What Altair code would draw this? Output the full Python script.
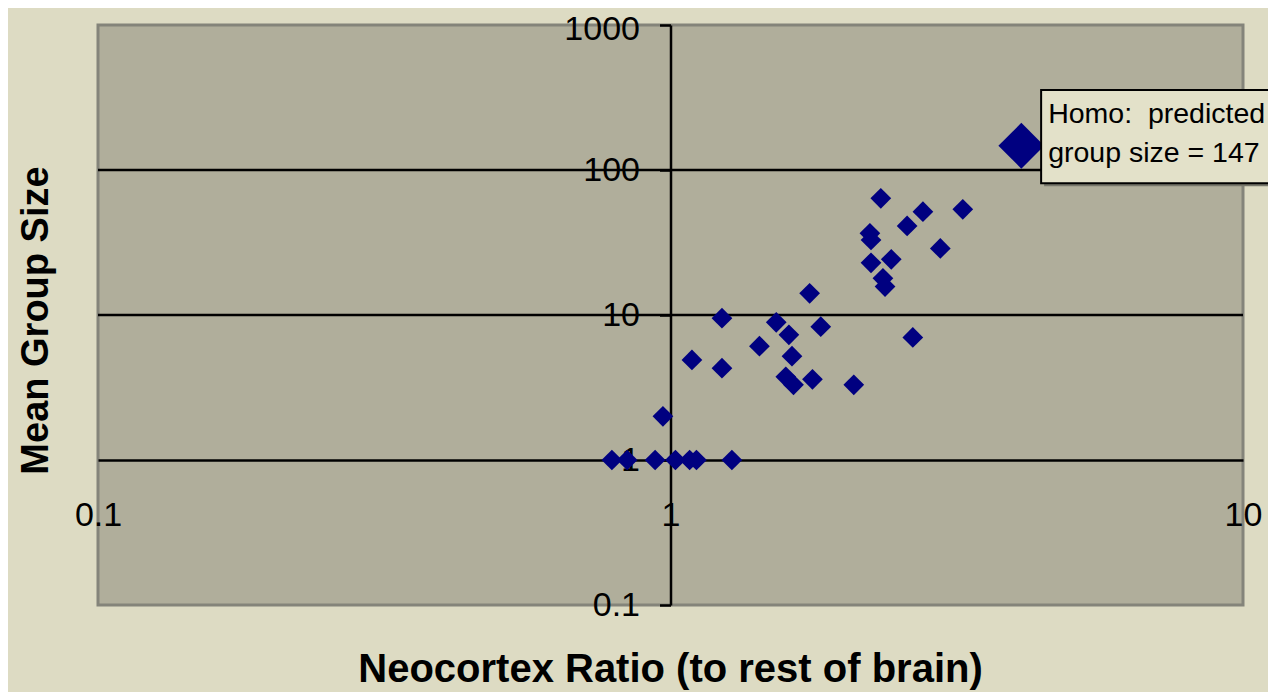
import altair as alt
import pandas as pd

# ---- data ----
neocortex = [0.79, 0.84, 0.94, 1.02, 1.08, 1.11, 1.28, 0.97, 1.09, 1.23, 1.23, 1.43,
             1.53, 1.61, 1.63, 1.59, 1.64, 1.77, 1.75, 1.83, 2.09, 2.23, 2.24, 2.24,
             2.33, 2.35, 2.37, 2.43, 2.59, 2.65, 2.76, 2.96, 3.24]
group_size = [1, 1, 1, 1, 1, 1, 1, 2.0, 4.9, 4.3, 9.5, 6.1,
              8.9, 7.3, 5.2, 3.75, 3.3, 3.6, 14.1, 8.3, 3.3, 36.6, 32.9, 22.9,
              63.8, 17.9, 15.7, 24.2, 41.1, 7.0, 51.6, 28.8, 53.6]
homo_x = [4.1]
homo_y = [147]
x_ticks = [0.1, 1, 10]
y_ticks = [0.1, 1, 10, 100, 1000]
grid_y = [10, 100]
note_lines = ["Homo:\u00a0 predicted", "group size = 147"]
note_box = {"x1": 4.44, "x2": 12.0, "y1": 81.0, "y2": 356.0, "tx": 4.44, "ty": 211.0}

pts = pd.DataFrame({"x": neocortex, "y": group_size})
homo = pd.DataFrame({"x": homo_x, "y": homo_y})
grid = pd.DataFrame({"g": grid_y})
box = pd.DataFrame([note_box])

FONT = "Liberation Sans"
xs = alt.Scale(type="log", domain=[0.1, 10], nice=False)
ys = alt.Scale(type="log", domain=[0.1, 1000], nice=False)

x_axis = alt.Axis(
    orient="bottom", offset=-145, values=x_ticks, format="~g", grid=False,
    ticks=False, domainColor="black", domainWidth=2.5,
    labelFont=FONT, labelFontSize=34, labelColor="black", labelPadding=38,
    labelFlush=False, labelOverlap=False,
    title="Neocortex Ratio (to rest of brain)", titleFont=FONT, titleFontSize=40,
    titleFontWeight="bold", titleColor="black", titleX=572, titleY=221,
    titleBaseline="alphabetic", titleAlign="center",
)
y_axis = alt.Axis(
    orient="left", offset=-572.5, values=y_ticks, format="~g", grid=False,
    ticks=True, tickSize=11, tickWidth=2.5, tickColor="black",
    domainColor="black", domainWidth=2.5,
    labelFont=FONT, labelFontSize=34, labelColor="black", labelPadding=20,
    labelFlush=False, labelOverlap=False, labelBaseline="middle",
    labelOffset={"condition": {"test": "datum.value >= 1000", "value": 4}, "value": 0},
    title="Mean Group Size", titleFont=FONT, titleFontSize=38,
    titleFontWeight="bold", titleColor="black", titleAngle=270,
    titleX=-634, titleY=295, titleBaseline="middle", titleAlign="center",
)

rules = alt.Chart(grid).mark_rule(color="black", strokeWidth=2.5).encode(
    y=alt.Y("g:Q", scale=ys, axis=y_axis)
)

points = alt.Chart(pts).mark_point(shape="diamond", filled=True, color="#000080",
                                   opacity=1, size=430).encode(
    x=alt.X("x:Q", scale=xs, axis=x_axis),
    y=alt.Y("y:Q", scale=ys, axis=y_axis),
)

homo_pt = alt.Chart(homo).mark_point(shape="diamond", filled=True, color="#000080",
                                     opacity=1, size=2100).encode(
    x=alt.X("x:Q", scale=xs, axis=x_axis),
    y=alt.Y("y:Q", scale=ys, axis=y_axis),
)

shadow = alt.Chart(box).mark_rect(color="#77776b", xOffset=3, x2Offset=3,
                                  yOffset=3, y2Offset=3).encode(
    x=alt.X("x1:Q", scale=xs, axis=x_axis), x2="x2:Q",
    y=alt.Y("y1:Q", scale=ys, axis=y_axis), y2="y2:Q",
)

rect = alt.Chart(box).mark_rect(fill="#e3e1c9", stroke="black", strokeWidth=2).encode(
    x=alt.X("x1:Q", scale=xs, axis=x_axis), x2="x2:Q",
    y=alt.Y("y1:Q", scale=ys, axis=y_axis), y2="y2:Q",
)

note = alt.Chart(box).mark_text(
    text=note_lines, align="left", baseline="alphabetic", dx=7,
    font=FONT, fontSize=28.5, color="black", lineHeight=39,
).encode(
    x=alt.X("tx:Q", scale=xs, axis=x_axis),
    y=alt.Y("ty:Q", scale=ys, axis=y_axis),
)

chart = alt.layer(rules, points, homo_pt, shadow, rect, note).properties(
    width=1145, height=580,
    autosize=alt.AutoSizeParams(type="none"),
    padding={"left": 90, "top": 17, "right": 25, "bottom": 87},
    background="#dddbc3",
).configure_view(
    fill="#b0ae9b", stroke="#84847a", strokeWidth=3
)

chart.save("out.html", embed_options={"renderer": "svg", "actions": False})
